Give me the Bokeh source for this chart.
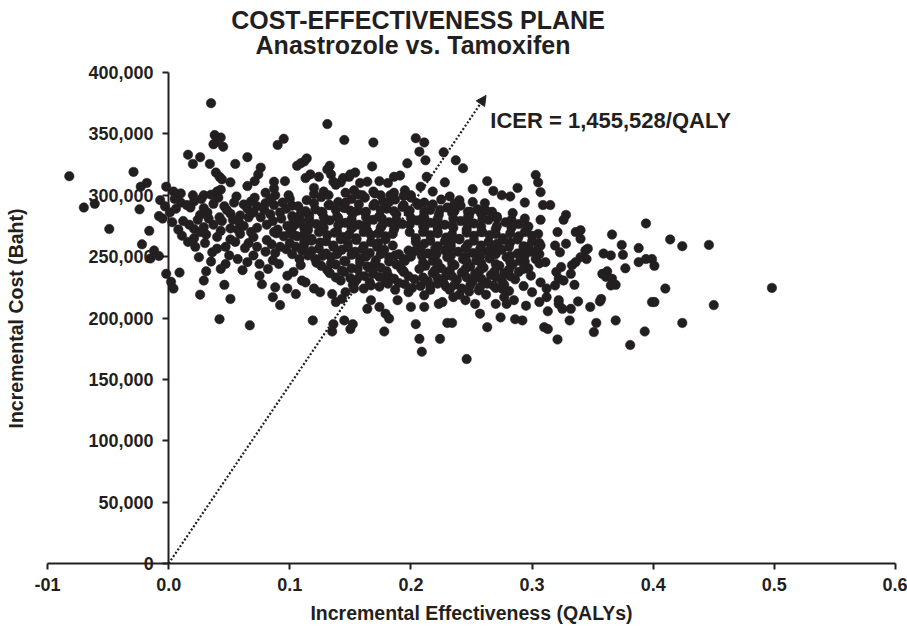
import numpy as np
from bokeh.plotting import figure
from bokeh.models import (ColumnDataSource, Range1d, FixedTicker, Label, Arrow, NormalHead)
from bokeh.embed import file_html
from bokeh.resources import INLINE

# ---------------------------------------------------------------------------
# Probabilistic sensitivity analysis: incremental effectiveness (QALYs) and
# incremental cost (thousand Baht) of anastrozole vs. tamoxifen.
# ---------------------------------------------------------------------------
ICER = 1455528  # Baht per QALY

# simulations with negative / near-zero effect
qaly_neg = [-0.082, -0.029, -0.018, -0.023, -0.070, -0.061, -0.024, -0.002, -0.007, -0.003, -0.008,
            -0.005, -0.049, -0.016, -0.022, -0.012, -0.015, -0.008, -0.002, 0.002, 0.004, 0.009]
cost_neg = [315.5, 319, 310, 307, 290, 293, 288.5, 307, 296, 291, 283,
            281, 272.5, 271, 260, 255, 248.5, 250.5, 236, 229.5, 224, 237]

# small effect, high cost
qaly_top = [0.035, 0.038, 0.043, 0.037, 0.045, 0.040, 0.090, 0.095, 0.016, 0.026,
            0.020, 0.034, 0.065, 0.055, 0.039, 0.042, 0.044, 0.051, 0.076, 0.074,
            0.071, 0.065, 0.087, 0.096, 0.106, 0.109, 0.112, 0.080, 0.099, 0.004,
            0.010, 0.020, 0.029, 0.035, 0.040, 0.043, 0.087, 0.088]
cost_top = [375, 349, 347, 341.5, 339.5, 343.5, 341, 346, 333, 331,
            325.5, 325.5, 331, 325.5, 318.5, 315, 313, 310.5, 322.5, 317,
            311.5, 307.5, 311, 311.5, 324, 326, 327.5, 302, 300, 303,
            301.5, 300, 300, 300.5, 303, 304.5, 305.5, 300]

# small effect, moderate cost
qaly_small = [0.010, 0.015, 0.021, 0.037, 0.046, 0.054, 0.062, 0.068, 0.073, 0.080, 0.087, 0.094, 0.102,
              0.001, 0.026, 0.032, 0.042, 0.051, 0.059, 0.070, 0.076, 0.084, 0.092, 0.102, 0.109,
              0.006, 0.029, 0.048, 0.065, 0.079, 0.097,
              0.017, 0.021, 0.029, 0.037, 0.051, 0.062, 0.073, 0.081, 0.090, 0.098, 0.106, 0.112,
              0.012, 0.044, 0.058, 0.086, 0.103,
              0.011, 0.021, 0.031, 0.040, 0.051, 0.059, 0.070, 0.081, 0.095, 0.103,
              0.022, 0.025, 0.036, 0.040, 0.047, 0.050, 0.057, 0.065, 0.043, 0.047, 0.061, 0.075, 0.086, 0.091,
              0.029, 0.046, 0.026, 0.051, 0.075, 0.077, 0.088, 0.086, 0.092, 0.042, 0.067, 0.098, 0.103,
              0.109, 0.110, 0.105, 0.098,
              0.089, 0.100, 0.105, 0.110, 0.102, 0.097, 0.108, 0.112, 0.092, 0.073, 0.080, 0.066, 0.085,
              0.005, 0.018, 0.027, 0.041, 0.056, 0.071, 0.084, 0.100,
              0.003, 0.024, 0.033, 0.053, 0.066, 0.093,
              0.008, 0.026, 0.043, 0.057, 0.068, 0.087, 0.101,
              0.016, 0.030, 0.055, 0.063, 0.088, 0.035, 0.070, 0.082, 0.031]
cost_small = [294, 292, 295, 293, 291, 294, 292.5, 295, 291, 293.5, 292, 294, 291.5,
              286, 284, 286, 282, 285, 283.5, 286, 282, 284.5, 286, 283, 285,
              289, 289.5, 288, 289, 288, 289,
              276, 272.5, 274, 276, 273, 275, 273.5, 276, 272, 275, 277, 273,
              279, 279, 278.5, 279, 280,
              267, 265, 268, 266, 264, 268.5, 266, 263.5, 266.5, 268,
              258, 249.5, 253.5, 256.5, 258, 251, 248, 245.5, 240, 244, 239, 244, 247, 244,
              230.5, 227, 219, 215.5, 234.5, 227.5, 225, 217, 210.5, 199, 194, 234.5, 237.5,
              243, 230.5, 219.5, 224,
              269, 261, 258, 255, 252, 256, 248, 262, 258, 258, 254, 261, 260,
              297, 290, 297, 298, 299, 298, 297, 297,
              278, 280, 281, 280, 282, 281,
              272, 270, 271, 272, 270, 270, 271,
              262, 261, 262, 257, 253, 246, 251, 240, 238]

# moderate effect, high cost
qaly_upper = [0.131, 0.145, 0.169, 0.204, 0.211, 0.207, 0.212, 0.227, 0.237, 0.243,
              0.197, 0.168, 0.133, 0.114, 0.154, 0.149, 0.142, 0.138, 0.174, 0.186,
              0.191, 0.213, 0.208, 0.228, 0.251, 0.263, 0.268, 0.275, 0.288, 0.303,
              0.305, 0.307, 0.309, 0.307, 0.297, 0.294, 0.282, 0.261, 0.267, 0.259, 0.251, 0.247,
              0.113, 0.117, 0.124, 0.131, 0.134, 0.136, 0.144, 0.150, 0.158, 0.164, 0.169, 0.175,
              0.181, 0.195, 0.120, 0.128, 0.153, 0.160, 0.186, 0.200, 0.218, 0.232, 0.240]
cost_upper = [358, 345, 343, 346.5, 343, 335.5, 328.5, 335, 328.5, 322,
              326, 323.5, 324, 330, 318.5, 315, 310.5, 308.5, 311.5, 315,
              316, 315, 307, 310.5, 305, 311.5, 303.5, 300, 306, 316.5,
              310.5, 302.5, 292, 280, 274.5, 294, 299, 293.5, 286.5, 286.5, 294.5, 286.5,
              314, 317, 315, 321, 317, 311, 314, 317, 310, 311, 303, 300,
              310, 304, 306, 303, 304, 300, 302, 300, 303, 299, 296]

# bulk of the simulations
qaly_core = [0.114, 0.126, 0.140, 0.151, 0.162, 0.177, 0.187, 0.200, 0.211, 0.225,
             0.107, 0.121, 0.132, 0.145, 0.156, 0.169, 0.180, 0.193, 0.206, 0.216, 0.230, 0.241, 0.255,
             0.116, 0.127, 0.139, 0.152, 0.162, 0.174, 0.188, 0.198, 0.210, 0.223, 0.234, 0.248, 0.258, 0.271, 0.284,
             0.109, 0.122, 0.133, 0.146, 0.157, 0.169, 0.182, 0.193, 0.205, 0.216, 0.228, 0.241, 0.252, 0.264, 0.278, 0.289,
             0.115, 0.128, 0.139, 0.151, 0.164, 0.175, 0.186, 0.199, 0.211, 0.222, 0.235, 0.246, 0.259, 0.270, 0.283, 0.295,
             0.106, 0.118, 0.131, 0.144, 0.155, 0.167, 0.179, 0.204, 0.216, 0.229, 0.240, 0.252, 0.265, 0.276, 0.289, 0.300,
             0.112, 0.125, 0.136, 0.148, 0.161, 0.173, 0.211, 0.222, 0.233, 0.247, 0.258, 0.271, 0.282, 0.293, 0.306,
             0.118, 0.130, 0.143, 0.154, 0.166, 0.178, 0.203, 0.214, 0.228, 0.239, 0.251, 0.264, 0.275, 0.288, 0.299,
             0.121, 0.134, 0.145, 0.158, 0.171, 0.182, 0.194, 0.218, 0.230, 0.243, 0.254, 0.265, 0.279, 0.290, 0.303,
             0.126, 0.138, 0.151, 0.164, 0.175, 0.188, 0.212, 0.225, 0.236, 0.249, 0.260, 0.273, 0.284, 0.297,
             0.133, 0.145, 0.158, 0.169, 0.181, 0.194, 0.218, 0.229, 0.242, 0.253, 0.266, 0.277, 0.289,
             0.142, 0.155, 0.166, 0.179, 0.190, 0.203, 0.214, 0.227, 0.238, 0.251, 0.262, 0.275, 0.286,
             0.161, 0.174, 0.187, 0.201, 0.216, 0.229, 0.242, 0.256, 0.270,
             0.185, 0.204, 0.198, 0.190, 0.200, 0.210, 0.195, 0.207, 0.194,
             0.216, 0.232, 0.248, 0.262, 0.281, 0.293, 0.240, 0.275, 0.300]
cost_core = [296, 298.5, 294.5, 297, 298, 295, 296.5, 298, 294, 296.5,
             291, 288.5, 292, 289.5, 287.5, 291.5, 289, 290.5, 292, 288, 290, 291.5, 288.5,
             283.5, 286, 282.5, 285, 286, 283, 284.5, 286, 282, 284, 285.5, 283, 285, 282.5, 285.5,
             279, 276.5, 279.5, 277.5, 276, 280, 278, 276.5, 279.5, 277.5, 276, 279, 277, 280, 278, 276.5,
             271.5, 273.5, 270.5, 273, 271, 273.5, 272, 270, 273, 270.5, 273.5, 272, 270, 272.5, 273.5, 271,
             266.5, 264.5, 267.5, 266, 265, 267.5, 266.5, 265, 267.5, 265.5, 264.5, 267, 267.5, 265, 266.5, 267,
             260, 261.5, 259, 261, 258.5, 261, 260.5, 258.5, 261.5, 260, 259, 260.5, 261.5, 258.5, 261,
             254.5, 252.5, 255.5, 254, 253, 255.5, 254.5, 252.5, 255, 254, 253, 254.5, 255.5, 252.5, 254,
             248, 249.5, 246.5, 248.5, 247, 249.5, 248, 246.5, 249.5, 248, 247, 248.5, 249.5, 246.5, 248,
             242.5, 243.5, 240.5, 242, 241, 243.5, 242.5, 240.5, 243, 242, 241, 242.5, 243.5, 240.5,
             236.5, 237.5, 234.5, 236, 235, 237.5, 236.5, 234.5, 237, 236, 235, 236.5, 237.5,
             230.5, 231, 229, 230.5, 228.5, 231.5, 230, 228.5, 231, 230, 229, 230.5, 231.5,
             224, 225.5, 223, 224.5, 223, 225.5, 224, 222.5, 224.5,
             259, 262, 255, 252, 250, 245, 246.5, 240, 238,
             226, 223, 221.5, 219, 222, 226, 219, 224, 221]

qaly_core2 = [0.120, 0.133, 0.146, 0.157, 0.170, 0.182, 0.194, 0.205, 0.218, 0.236,
              0.113, 0.126, 0.138, 0.150, 0.163, 0.175, 0.186, 0.199, 0.211, 0.224, 0.236, 0.249, 0.262,
              0.104, 0.116, 0.128, 0.140, 0.151, 0.163, 0.176, 0.188, 0.200, 0.211, 0.222, 0.235, 0.247, 0.259, 0.271, 0.283, 0.294,
              0.103, 0.115, 0.127, 0.140, 0.152, 0.163, 0.176, 0.187, 0.199, 0.210, 0.222, 0.234, 0.247, 0.258, 0.271, 0.283, 0.296,
              0.100, 0.112, 0.124, 0.137, 0.149, 0.161, 0.173, 0.185, 0.210, 0.222, 0.234, 0.246, 0.258, 0.270, 0.282, 0.294, 0.305,
              0.118, 0.130, 0.142, 0.155, 0.167, 0.179, 0.216, 0.228, 0.240, 0.252, 0.264, 0.276, 0.288, 0.300,
              0.111, 0.124, 0.136, 0.148, 0.160, 0.172, 0.208, 0.220, 0.233, 0.245, 0.257, 0.269, 0.281, 0.293, 0.305,
              0.115, 0.127, 0.139, 0.151, 0.163, 0.175, 0.187, 0.209, 0.221, 0.233, 0.245, 0.258, 0.270, 0.282, 0.294, 0.306,
              0.122, 0.134, 0.146, 0.158, 0.170, 0.182, 0.222, 0.234, 0.246, 0.258, 0.270, 0.282, 0.294, 0.306,
              0.131, 0.143, 0.156, 0.168, 0.180, 0.192, 0.220, 0.232, 0.245, 0.257, 0.269, 0.281, 0.293,
              0.138, 0.150, 0.162, 0.174, 0.186, 0.198, 0.210, 0.222, 0.234, 0.246, 0.258, 0.270, 0.282,
              0.152, 0.167, 0.181, 0.195, 0.208, 0.222, 0.236, 0.249, 0.263, 0.277,
              0.120, 0.132, 0.146, 0.157, 0.170, 0.183, 0.194]
cost_core2 = [293.5, 292, 294, 292.5, 293, 294.5, 292, 293.5, 292.5, 293,
              287, 286.5, 288, 287.5, 286.5, 288, 287, 287.5, 286.5, 288, 287, 286.5, 287.5,
              281, 280.5, 282, 281.5, 280.5, 282, 281, 280, 281.5, 282, 280.5, 281, 282, 280.5, 281.5, 280, 281,
              275, 274.5, 276, 275.5, 274, 276, 275, 274.5, 276, 275, 274, 275.5, 276, 274.5, 275, 276, 274.5,
              269, 268.5, 270, 269.5, 268, 270, 269, 268.5, 270, 269, 268, 269.5, 270, 268.5, 269, 270, 268.5,
              263, 262.5, 264, 263.5, 262, 264, 263, 262.5, 264, 263, 262, 263.5, 264, 262.5,
              257, 256.5, 258, 257.5, 256, 258, 257, 256.5, 258, 257, 256, 257.5, 258, 256.5, 257,
              251, 250.5, 252, 251.5, 250, 252, 251, 250.5, 252, 251, 250, 251.5, 252, 250.5, 251, 252,
              245, 244.5, 246, 245.5, 244, 246, 245, 244.5, 246, 245, 244, 245.5, 246, 244.5,
              239, 238.5, 240, 239.5, 238, 240, 239, 238.5, 240, 239, 238, 239.5, 240,
              233, 232.5, 234, 233.5, 232, 234, 233, 232.5, 234, 233, 232, 233.5, 234,
              227, 226.5, 228, 227.5, 226, 228, 227, 226.5, 228, 227,
              301, 300, 302, 300.5, 301.5, 300, 299.5]

# moderate effect, lower cost
qaly_low = [0.113, 0.120, 0.125, 0.135, 0.138, 0.143, 0.146, 0.153, 0.167, 0.164,
            0.174, 0.179, 0.182, 0.189, 0.200, 0.198, 0.211, 0.211, 0.204, 0.207,
            0.209, 0.224, 0.223, 0.226, 0.230, 0.234, 0.235, 0.245, 0.246, 0.253,
            0.257, 0.263, 0.257, 0.268, 0.270, 0.274, 0.277, 0.279, 0.285, 0.286,
            0.292, 0.295, 0.306, 0.310, 0.307, 0.299, 0.307, 0.297, 0.119, 0.136,
            0.145, 0.152, 0.150, 0.178, 0.135]
cost_low = [229, 224, 221, 219.5, 213, 215.5, 221, 224, 214.5, 207.5,
            209, 203.5, 199.5, 214.5, 209, 221, 218.5, 209, 195, 183,
            172.5, 183, 211.5, 213, 196, 196, 217, 214.5, 166.5, 211.5,
            203.5, 192.5, 225, 226.5, 211.5, 200.5, 217, 211.5, 214.5, 199,
            198, 210, 213, 192.5, 229, 234.5, 259, 258, 198, 195,
            198, 195, 191, 189, 189]

# large effect
qaly_right = [0.315, 0.328, 0.326, 0.394, 0.321, 0.336, 0.340, 0.366, 0.340, 0.414,
              0.424, 0.446, 0.319, 0.328, 0.323, 0.374, 0.388, 0.375, 0.344, 0.346,
              0.340, 0.336, 0.333, 0.345, 0.359, 0.365, 0.388, 0.394, 0.399, 0.401,
              0.377, 0.324, 0.320, 0.332, 0.322, 0.326, 0.319, 0.335, 0.312, 0.312,
              0.322, 0.322, 0.325, 0.332, 0.338, 0.313, 0.348, 0.356, 0.357, 0.358,
              0.362, 0.361, 0.366, 0.365, 0.369, 0.410, 0.498, 0.399, 0.401, 0.450,
              0.331, 0.353, 0.369, 0.424, 0.313, 0.321, 0.351, 0.393, 0.381, 0.311]
cost_right = [292, 284, 280, 277, 270, 270, 271.5, 268, 264.5, 264,
              258.5, 259.5, 259, 260.5, 253.5, 259.5, 257, 251.5, 255, 256.5,
              249.5, 245.5, 243, 248, 252.5, 251, 245.5, 248, 248, 242.5,
              240.5, 241.5, 237.5, 236, 232, 230.5, 226.5, 227, 224, 217,
              214.5, 211.5, 207.5, 207.5, 213.5, 205.5, 209, 213.5, 215.5, 236,
              238, 233.5, 232, 226.5, 227, 224, 224.5, 213, 213, 210.5,
              198, 196, 198, 196, 191, 182.5, 188.5, 189, 178, 245.5]

x_ticks = [-0.1, 0.0, 0.1, 0.2, 0.3, 0.4, 0.5, 0.6]
x_tick_labels = ["-01", "0.0", "0.1", "0.2", "0.3", "0.4", "0.5", "0.6"]
y_ticks = [0, 50000, 100000, 150000, 200000, 250000, 300000, 350000, 400000]
y_tick_labels = ["0", "50,000", "100,000", "150,000", "200,000", "250,000",
                 "300,000", "350,000", "400,000"]

groups = [(qaly_neg, cost_neg), (qaly_top, cost_top), (qaly_small, cost_small),
          (qaly_upper, cost_upper), (qaly_core, cost_core), (qaly_core2, cost_core2),
          (qaly_low, cost_low), (qaly_right, cost_right)]
for q, c in groups:
    assert len(q) == len(c), (len(q), len(c))

qaly = np.concatenate([np.asarray(q, float) for q, _ in groups])
cost = np.concatenate([np.asarray(c, float) for _, c in groups]) * 1000.0
src = ColumnDataSource(dict(qaly=qaly, cost=cost))

FONT = "Liberation Sans"
INK = "#231f20"
W, H = 907, 626

# The frame fills the whole canvas; both axes cross at the origin and are
# bounded to the plotted quadrant, so titles can sit inside the frame.
X0, X1 = -0.1, 0.6            # axis extent (QALY)
Y0, Y1 = 0, 400000            # axis extent (Baht)
ax_left, ax_right = 47, 895   # pixel extent of the x axis
ax_top, ax_bottom = 72, 563   # pixel extent of the y axis
xs = (X1 - X0) / (ax_right - ax_left)
ys = (Y1 - Y0) / (ax_bottom - ax_top)
x_range = Range1d(X0 - ax_left * xs, X1 + (W - ax_right) * xs)
y_range = Range1d(Y0 - (H - ax_bottom) * ys, Y1 + ax_top * ys)

p = figure(width=W, height=H, output_backend="svg", toolbar_location=None, title=None,
           x_range=x_range, y_range=y_range, min_border=0)
p.background_fill_color = "white"
p.border_fill_color = "white"
p.outline_line_color = None
p.xgrid.visible = False
p.ygrid.visible = False

for ax in (p.xaxis[0], p.yaxis[0]):
    ax.axis_line_color = INK
    ax.axis_line_width = 2
    ax.major_tick_line_color = INK
    ax.major_tick_line_width = 2
    ax.minor_tick_line_color = None
    ax.major_tick_in = 0
    ax.major_tick_out = 6
    ax.major_label_text_font = FONT
    ax.major_label_text_font_size = "18px"
    ax.major_label_text_font_style = "bold"
    ax.major_label_text_color = INK
    ax.fixed_location = 0

p.xaxis.bounds = (X0, X1)
p.xaxis.ticker = FixedTicker(ticks=x_ticks)
p.xaxis.major_label_overrides = dict(zip(x_ticks, x_tick_labels))
p.xaxis.major_label_standoff = 8
p.xaxis.axis_label = "Incremental Effectiveness (QALYs)"
p.xaxis.axis_label_text_font = FONT
p.xaxis.axis_label_text_font_size = "19.5px"
p.xaxis.axis_label_text_font_style = "bold"
p.xaxis.axis_label_text_color = INK
p.xaxis.axis_label_standoff = 8

p.yaxis.bounds = (Y0, Y1)
p.yaxis.ticker = FixedTicker(ticks=y_ticks)
p.yaxis.major_label_overrides = dict(zip(y_ticks, y_tick_labels))
p.yaxis.major_label_standoff = 9


def px_x(sx):
    return X0 + (sx - ax_left) * xs


def px_y(sy):
    return Y0 + (ax_bottom - sy) * ys


text_style = dict(text_font=FONT, text_font_style="bold", text_color=INK)
p.add_layout(Label(x=px_x(417.5), y=px_y(19), text="COST-EFFECTIVENESS PLANE", text_align="center",
                   text_baseline="alphabetic", text_font_size="25px", **text_style))
p.add_layout(Label(x=px_x(412.5), y=px_y(44), text="Anastrozole vs. Tamoxifen", text_align="center",
                   text_baseline="alphabetic", text_font_size="25px", **text_style))
p.add_layout(Label(x=px_x(15), y=px_y(318), angle=np.pi / 2, text="Incremental Cost (Baht)",
                   text_align="center", text_baseline="middle", text_font_size="19.5px",
                   **text_style))

dots = p.scatter("qaly", "cost", source=src, size=9.5, fill_color=INK, line_color=INK,
                 line_width=0.5)
dots.level = "overlay"

# ICER line from the origin
x_tip = 0.262
icer_arrow = Arrow(end=NormalHead(size=10, fill_color=INK, line_color=INK),
                   x_start=0, y_start=0, x_end=x_tip, y_end=x_tip * ICER,
                   line_color=INK, line_width=2.2, line_dash="2 2", level="overlay")
p.add_layout(icer_arrow)
p.add_layout(Label(x=0.2655, y=361000, text=f"ICER = {ICER:,}/QALY", text_baseline="alphabetic",
                   text_font_size="22px", **text_style))

open("out.html", "w").write(file_html(p, INLINE))
